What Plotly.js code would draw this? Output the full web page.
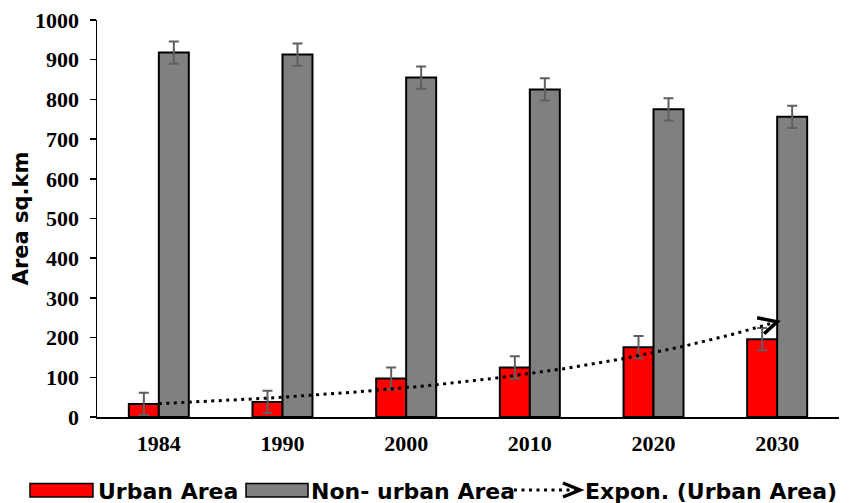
<!DOCTYPE html>
<html>
<head>
<meta charset="utf-8">
<script src="https://cdn.plot.ly/plotly-3.0.1.min.js"></script>
<style>html,body{margin:0;padding:0;background:#fff;}#chart{width:856px;height:503px;}</style>
</head>
<body>
<div id="chart"></div>
<script>
// ---- data ----
var years = ['1984', '1990', '2000', '2010', '2020', '2030'];
var urbanArea = [33, 38, 97, 125, 176, 196];
var nonUrbanArea = [918, 913, 855, 825, 775, 756];
var urbanErr = [28, 28, 28, 28, 28, 28];
var nonUrbanErr = [28, 28, 28, 28, 28, 28];
var yTicks = [0, 100, 200, 300, 400, 500, 600, 700, 800, 900, 1000];

// ---- exponential trendline (least squares on ln y, x = 1..n, like Excel) ----
var n = urbanArea.length, sx = 0, sy = 0, sxx = 0, sxy = 0;
for (var i = 0; i < n; i++) {
  var xv = i + 1, ly = Math.log(urbanArea[i]);
  sx += xv; sy += ly; sxx += xv * xv; sxy += xv * ly;
}
var bExp = (n * sxy - sx * sy) / (n * sxx - sx * sx);
var aExp = (sy - bExp * sx) / n;
var trendX = [], trendY = [];
for (var k = 0; k <= 100; k++) {
  var t = (n - 1) * k / 100;
  trendX.push(t);
  trendY.push(Math.exp(aExp + bExp * (t + 1)));
}
var idx = years.map(function (_, j) { return j; });

var serif = {family: 'Liberation Serif, "Times New Roman", serif', size: 22, color: '#000', weight: 700};
var sans = {family: '"DejaVu Sans", sans-serif', size: 21, color: '#000', weight: 700};
var legFont = {family: '"DejaVu Sans", sans-serif', size: 22, color: '#000', weight: 700};

var traces = [
  {type: 'bar', name: 'Urban Area', x: idx, y: urbanArea,
   marker: {color: '#FF0000', line: {color: '#000', width: 2}},
   error_y: {type: 'data', array: urbanErr, visible: true, color: '#5f5f5f', thickness: 2, width: 5},
   showlegend: false, hoverinfo: 'y'},
  {type: 'bar', name: 'Non- urban Area', x: idx, y: nonUrbanArea,
   marker: {color: '#808080', line: {color: '#000', width: 2}},
   error_y: {type: 'data', array: nonUrbanErr, visible: true, color: '#5f5f5f', thickness: 2, width: 5},
   showlegend: false, hoverinfo: 'y'},
  {type: 'scatter', mode: 'lines', name: 'Expon. (Urban Area)', x: trendX, y: trendY,
   line: {color: '#000', width: 3, dash: '3px,4.5px'}, showlegend: false, hoverinfo: 'skip'}
];

// legend helpers (pixel -> paper)
var L = 97, R = 17, T = 20, B = 86, W = 856, H = 503;
var pw = W - L - R, ph = H - T - B;
function px(x) { return (x - L) / pw; }
function py(y) { return (H - B - y) / ph; }

var shapes = [
  {type: 'rect', xref: 'paper', yref: 'paper', x0: px(30), x1: px(93), y0: py(497), y1: py(483.5),
   fillcolor: '#FF0000', line: {color: '#000', width: 1.5}},
  {type: 'rect', xref: 'paper', yref: 'paper', x0: px(246), x1: px(308), y0: py(497), y1: py(483.5),
   fillcolor: '#808080', line: {color: '#000', width: 1.5}},
  {type: 'line', xref: 'paper', yref: 'paper', x0: px(514), x1: px(578), y0: py(490), y1: py(490),
   line: {color: '#000', width: 3, dash: '3px,4.5px'}},
  {type: 'path', xref: 'paper', yref: 'paper',
   path: 'M' + px(563) + ',' + py(483) + ' L' + px(580) + ',' + py(490) + ' L' + px(563) + ',' + py(497),
   line: {color: '#000', width: 3.5}},
  // arrow head at end of trendline
  {type: 'path', xref: 'x', yref: 'y', xsizemode: 'pixel', ysizemode: 'pixel',
   xanchor: trendX[trendX.length - 1], yanchor: trendY[trendY.length - 1],
   path: 'M-20,4 L0,0 L-13,-12', line: {color: '#000', width: 3.5}}
];

var annotations = [
  {xref: 'paper', yref: 'paper', x: px(96), y: py(491), xanchor: 'left', yanchor: 'middle',
   text: 'Urban Area', showarrow: false, font: legFont},
  {xref: 'paper', yref: 'paper', x: px(309), y: py(491), xanchor: 'left', yanchor: 'middle',
   text: 'Non- urban Area', showarrow: false, font: legFont},
  {xref: 'paper', yref: 'paper', x: px(583), y: py(491), xanchor: 'left', yanchor: 'middle',
   text: 'Expon. (Urban Area)', showarrow: false, font: legFont}
];

var layout = {
  width: W, height: H,
  margin: {l: L, r: R, t: T, b: B, pad: 0},
  paper_bgcolor: '#fff', plot_bgcolor: '#fff',
  barmode: 'group', bargap: 0.515, bargroupgap: 0,
  showlegend: false,
  xaxis: {range: [-0.5, 5.5], tickmode: 'array', tickvals: idx, ticktext: years,
          showline: true, linecolor: '#000', linewidth: 1.5, ticks: '', showgrid: false, zeroline: false,
          tickfont: serif, ticklabelstandoff: 6, fixedrange: true},
  yaxis: {range: [0, 1000], tickmode: 'array', tickvals: yTicks,
          showline: true, linecolor: '#000', linewidth: 1.5, ticks: 'outside', ticklen: 6, tickwidth: 1.5,
          tickcolor: '#000', showgrid: false, zeroline: false, tickfont: serif, ticklabelstandoff: 6,
          title: {text: 'Area sq.km', font: sans, standoff: 0}, fixedrange: true},
  shapes: shapes,
  annotations: annotations
};

Plotly.newPlot('chart', traces, layout, {displayModeBar: false, staticPlot: true});
</script>
</body>
</html>
